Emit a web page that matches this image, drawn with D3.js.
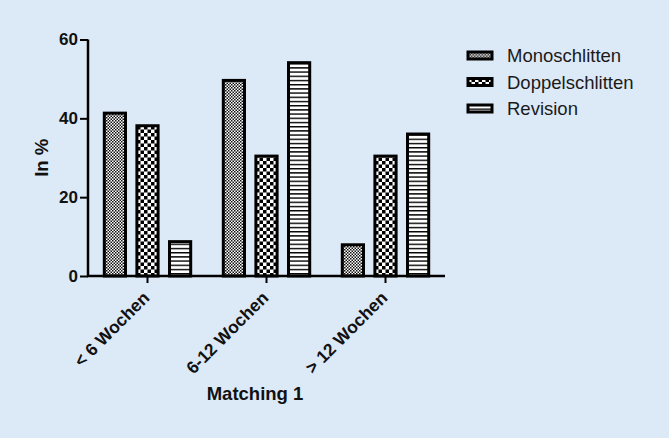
<!DOCTYPE html>
<html>
<head>
<meta charset="utf-8">
<script src="https://cdn.jsdelivr.net/npm/d3@7"></script>
<style>
  html, body { margin: 0; padding: 0; background: #dce9f7; }
  svg { display: block; font-family: "Liberation Sans", Arial, sans-serif; }
</style>
</head>
<body>
<div id="chart"></div>
<script>
const categories = ["< 6 Wochen", "6-12 Wochen", "> 12 Wochen"];
const seriesNames = ["Monoschlitten", "Doppelschlitten", "Revision"];
const monoValues = [41.7, 50.0, 8.3];
const doppelValues = [38.5, 30.8, 30.8];
const revisionValues = [9.1, 54.5, 36.4];
const yTicks = [0, 20, 40, 60];
const xTitle = "Matching 1";
const yTitle = "In %";

const size = { width: 669, height: 438 };
const margin = { top: 39.5, left: 88, bottom: 162, right: 226 };

const valuesBySeries = {
  Monoschlitten: monoValues,
  Doppelschlitten: doppelValues,
  Revision: revisionValues,
};
const data = categories.map((c, i) => ({
  cat: c,
  values: seriesNames.map((s) => ({ key: s, value: valuesBySeries[s][i] })),
}));

const svg = d3
  .select("#chart")
  .append("svg")
  .attr("width", size.width)
  .attr("height", size.height);

svg.append("rect").attr("width", size.width).attr("height", size.height).attr("fill", "#dce9f7");

// patterns
const defs = svg.append("defs");
const pMono = defs.append("pattern").attr("id", "pat-Monoschlitten")
  .attr("patternUnits", "userSpaceOnUse").attr("width", 3).attr("height", 3);
pMono.append("rect").attr("width", 3).attr("height", 3).attr("fill", "#fff");
pMono.append("rect").attr("width", 1.5).attr("height", 1.5).attr("fill", "#111");
pMono.append("rect").attr("x", 1.5).attr("y", 1.5).attr("width", 1.5).attr("height", 1.5).attr("fill", "#111");

const pDop = defs.append("pattern").attr("id", "pat-Doppelschlitten")
  .attr("patternUnits", "userSpaceOnUse").attr("width", 7).attr("height", 7);
pDop.append("rect").attr("width", 7).attr("height", 7).attr("fill", "#fff");
pDop.append("rect").attr("width", 3.5).attr("height", 3.5).attr("fill", "#000");
pDop.append("rect").attr("x", 3.5).attr("y", 3.5).attr("width", 3.5).attr("height", 3.5).attr("fill", "#000");

const pRev = defs.append("pattern").attr("id", "pat-Revision")
  .attr("patternUnits", "userSpaceOnUse").attr("width", 6).attr("height", 4.2);
pRev.append("rect").attr("width", 6).attr("height", 4.2).attr("fill", "#fff");
pRev.append("rect").attr("y", 0).attr("width", 6).attr("height", 1.4).attr("fill", "#000");

const x = d3
  .scaleBand()
  .domain(categories)
  .range([margin.left, size.width - margin.right + 2]);

const xInner = d3
  .scaleBand()
  .domain(seriesNames)
  .range([0, x.bandwidth()])
  .paddingInner(0.35)
  .paddingOuter(0.5);

const y = d3
  .scaleLinear()
  .domain([0, 60])
  .range([size.height - margin.bottom, margin.top]);

// bars
svg
  .append("g")
  .selectAll("g")
  .data(data)
  .enter()
  .append("g")
  .attr("transform", (d) => `translate(${x(d.cat)},0)`)
  .selectAll("rect")
  .data((d) => d.values)
  .enter()
  .append("rect")
  .attr("x", (d) => xInner(d.key))
  .attr("width", xInner.bandwidth())
  .attr("y", (d) => y(d.value) + 1.5)
  .attr("height", (d) => y(0) - y(d.value) - 1.5)
  .attr("fill", (d) => `url(#pat-${d.key})`)
  .attr("stroke", "#000")
  .attr("stroke-width", 3);

// y axis
const yAxis = svg
  .append("g")
  .attr("transform", `translate(${margin.left},0)`)
  .call(d3.axisLeft(y).tickValues(yTicks).tickSize(8).tickPadding(2));
yAxis.select(".domain").attr("stroke", "#000").attr("stroke-width", 2.5)
  .attr("d", `M0,${y(60)}V${y(0) + 1}`);
yAxis.selectAll(".tick line").attr("stroke", "#000").attr("stroke-width", 2);
yAxis.selectAll(".tick text")
  .attr("fill", "#111")
  .style("font-size", "17px")
  .style("font-weight", "bold")
  .style("font-family", "'Liberation Sans', Arial, sans-serif");

// x axis
const xAxis = svg
  .append("g")
  .attr("transform", `translate(0,${y(0)})`)
  .call(d3.axisBottom(x).tickSize(7).tickFormat(""));
xAxis.select(".domain").attr("stroke", "#000").attr("stroke-width", 2.5)
  .attr("d", `M${margin.left - 1},0H${x.range()[1]}`);
xAxis.selectAll(".tick line").attr("stroke", "#000").attr("stroke-width", 2);

svg
  .append("g")
  .selectAll("text")
  .data(categories)
  .enter()
  .append("text")
  .attr("transform", (d) => `translate(${x(d) + x.bandwidth() / 2 + 3},${y(0) + 23}) rotate(-45)`)
  .attr("text-anchor", "end")
  .attr("fill", "#111")
  .style("font-size", "17.5px")
  .style("font-weight", "bold")
  .text((d) => d);

// axis titles
svg
  .append("text")
  .attr("x", 255)
  .attr("y", 400)
  .attr("text-anchor", "middle")
  .attr("fill", "#111")
  .style("font-size", "18.5px")
  .style("font-weight", "bold")
  .text(xTitle);

svg
  .append("text")
  .attr("transform", `translate(48,${(y(0) + y(60)) / 2}) rotate(-90)`)
  .attr("text-anchor", "middle")
  .attr("fill", "#111")
  .style("font-size", "18.5px")
  .style("font-weight", "bold")
  .text(yTitle);

// legend
const legend = svg
  .append("g")
  .selectAll("g")
  .data(seriesNames)
  .enter()
  .append("g")
  .attr("transform", (d, i) => `translate(468,${55.5 + i * 26.5})`);

legend
  .append("rect")
  .attr("x", 0)
  .attr("y", -3.5)
  .attr("width", 24)
  .attr("height", 7)
  .attr("fill", (d) => `url(#pat-${d})`)
  .attr("stroke", "#000")
  .attr("stroke-width", 3);

legend
  .append("text")
  .attr("x", 39)
  .attr("y", 6.5)
  .attr("fill", "#1a1a1a")
  .style("font-size", "18.5px")
  .text((d) => d);
</script>
</body>
</html>
